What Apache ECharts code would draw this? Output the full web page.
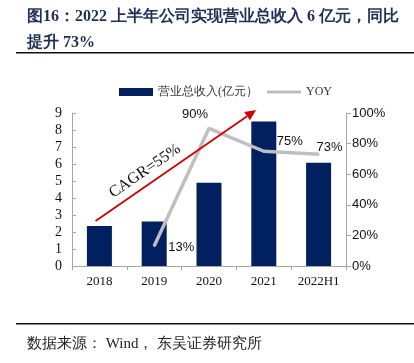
<!DOCTYPE html>
<html><head><meta charset="utf-8">
<script src="https://cdn.jsdelivr.net/npm/echarts@6/dist/echarts.min.js"></script>
<style>html,body{margin:0;padding:0;background:#fff;}#c{width:414px;height:363px;}</style>
</head><body><div id="c"></div>
<script>
const categories = ['2018', '2019', '2020', '2021', '2022H1'];
const revenue = [2.35, 2.62, 4.9, 8.5, 6.07];
const yoy = [null, 13, 90, 75, 73];
const yoyLabels = ['', '13%', '90%', '75%', '73%'];
const leftTicks = [0, 9, 1];
const rightTicks = [0, 100, 20];

const serif = '"Times New Roman","Liberation Serif",serif';
const sans = 'Arial,"Liberation Sans",sans-serif';
const chart = echarts.init(document.getElementById('c'));
// label placement relative to the point (pixels)
const labelShift = [null, [27, 1], [-14, -14], [26, -10], [11, -7]];

chart.setOption({
  animation: false,
  title: [
    {text: '图16：2022 上半年公司实现营业总收入 6 亿元，同比', left: 22, top: 4,
     textStyle: {fontFamily: serif, fontSize: 16, fontWeight: 'bold', color: '#1f2f55'}},
    {text: '提升 73%', left: 22, top: 30,
     textStyle: {fontFamily: serif, fontSize: 16, fontWeight: 'bold', color: '#1f2f55'}},
    {text: '数据来源： Wind， 东吴证券研究所', left: 22, top: 332,
     textStyle: {fontFamily: serif, fontSize: 15, fontWeight: 'normal', color: '#222'}}
  ],
  legend: [
    {data: [{name: '营业总收入(亿元）', icon: 'rect'}], left: 114, top: 81, itemWidth: 34, itemHeight: 8, itemGap: 4,
     textStyle: {fontFamily: serif, fontSize: 12, color: '#333'}},
    {data: [{name: 'YOY', icon: 'rect'}], left: 262, top: 81, itemWidth: 34, itemHeight: 3, itemGap: 3,
     textStyle: {fontFamily: serif, fontSize: 12, color: '#333'}}
  ],
  grid: {left: 72, right: 68, top: 113, bottom: 97},
  xAxis: {
    type: 'category', data: categories,
    axisLine: {lineStyle: {color: '#A6A6A6'}},
    axisTick: {show: true, alignWithLabel: false, length: 4, lineStyle: {color: '#A6A6A6'}},
    axisLabel: {fontFamily: serif, fontSize: 13, color: '#111', margin: 9}
  },
  yAxis: [
    {type: 'value', min: leftTicks[0], max: leftTicks[1], interval: leftTicks[2],
     splitLine: {show: false},
     axisLine: {show: true, lineStyle: {color: '#A6A6A6'}},
     axisTick: {show: true, inside: true, length: 4, lineStyle: {color: '#A6A6A6'}},
     axisLabel: {fontFamily: serif, fontSize: 14, color: '#111', margin: 10}},
    {type: 'value', min: rightTicks[0], max: rightTicks[1], interval: rightTicks[2], position: 'right',
     splitLine: {show: false},
     axisLine: {show: true, lineStyle: {color: '#A6A6A6'}},
     axisTick: {show: true, length: 5, lineStyle: {color: '#A6A6A6'}},
     axisLabel: {fontFamily: sans, fontSize: 13, color: '#111', margin: 6, formatter: '{value}%'}}
  ],
  series: [
    {name: '营业总收入(亿元）', type: 'bar', data: revenue, barWidth: 25,
     itemStyle: {color: '#002060'}},
    {name: 'YOY', type: 'line', yAxisIndex: 1, symbol: 'circle', symbolSize: 2, showSymbol: true, z: 5,
     lineStyle: {color: '#BFBFBF', width: 3.5}, itemStyle: {color: '#BFBFBF'},
     label: {show: true, fontFamily: sans, fontSize: 13, color: '#111',
             formatter: p => yoyLabels[p.dataIndex]},
     labelLayout: {hideOverlap: false},
     data: yoy.map((v, i) => v == null ? null : {
       value: v,
       label: {position: [1 + labelShift[i][0], 1 + labelShift[i][1]], align: 'center', verticalAlign: 'middle'}
     })}
  ]
});

// CAGR annotation arrow, placed via axis conversion
const catW = chart.convertToPixel({xAxisIndex: 0}, categories[1]) - chart.convertToPixel({xAxisIndex: 0}, categories[0]);
const x0 = chart.convertToPixel({xAxisIndex: 0}, categories[0]) - 0.07 * catW;
const y0 = chart.convertToPixel({yAxisIndex: 0}, 2.65);
const x1 = chart.convertToPixel({xAxisIndex: 0}, categories[2]) + 0.86 * catW;
const y1 = chart.convertToPixel({yAxisIndex: 0}, 9.18);
const ang = Math.atan2(y0 - y1, x1 - x0);
const hl = 11, hw = 5;
const bx = x1 - hl * Math.cos(-ang), by = y1 - hl * Math.sin(-ang);
const px = Math.sin(-ang), py = -Math.cos(-ang);
chart.setOption({
  graphic: [
    {type: 'line', shape: {x1: x0, y1: y0, x2: bx, y2: by}, style: {stroke: '#D00000', lineWidth: 1.8}, z: 100},
    {type: 'polygon', shape: {points: [[x1, y1], [bx + px * hw, by + py * hw], [bx - px * hw, by - py * hw]]},
     style: {fill: '#D00000'}, z: 100},
    {type: 'text', x: 145, y: 171, rotation: ang, z: 100,
     style: {text: 'CAGR=55%', fontFamily: serif, fontSize: 16, fill: '#111', align: 'center', verticalAlign: 'middle'}},
    {type: 'rect', shape: {x: 16, y: 52, width: 398, height: 1.5}, style: {fill: '#111'}},
    {type: 'rect', shape: {x: 16, y: 323, width: 398, height: 1.5}, style: {fill: '#111'}}
  ]
});
</script></body></html>
